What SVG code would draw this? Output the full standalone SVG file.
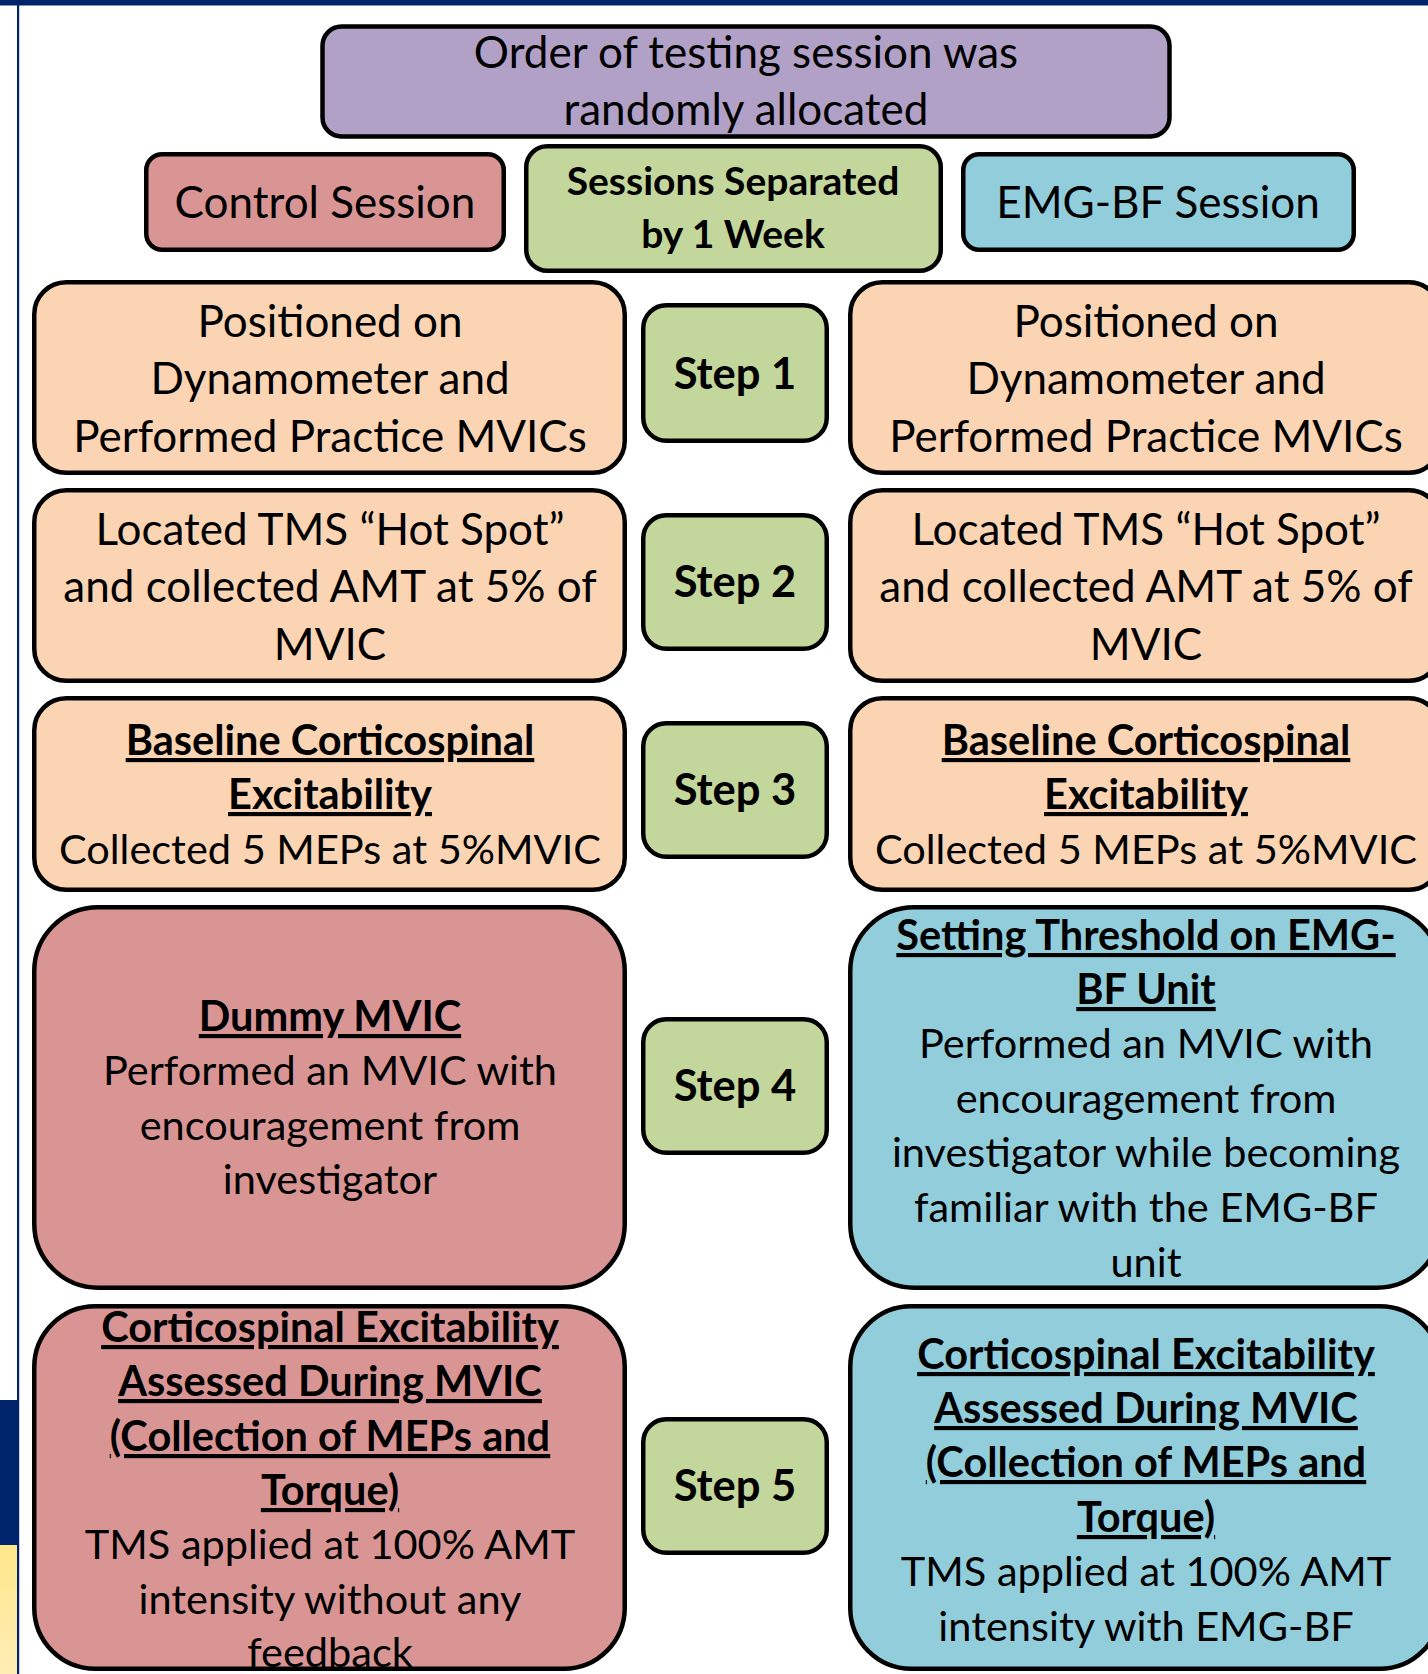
<svg xmlns="http://www.w3.org/2000/svg" width="1428" height="1674" viewBox="0 0 1428 1674">
<defs>
<linearGradient id="yel" x1="0" y1="0" x2="0" y2="1">
<stop offset="0" stop-color="#FEE68A"/>
<stop offset="1" stop-color="#FFEDB5"/>
</linearGradient>
<style>
.box{stroke:#000;stroke-width:4.5}
.pur{fill:#B2A1C7}.pink{fill:#D99594}.grn{fill:#C3D69B}.blu{fill:#92CDDC}.pch{fill:#FBD4B4}
text{font-family:Lato,"Liberation Sans",sans-serif;text-anchor:middle;fill:#000}
.r{font-size:44px}
.s{font-size:41.5px}
.b{font-weight:bold}
.u{text-decoration:underline}
.st{font-size:43.5px;font-weight:bold}
.ss{font-size:39px;font-weight:bold}
</style>
</defs>
<rect width="1428" height="1674" fill="#fff"/>
<g id="frame">
<rect x="0" y="0" width="1428" height="5.5" fill="#00246C"/>
<rect x="17" y="0" width="2.2" height="1674" fill="#00246C"/>
<rect x="0" y="1400" width="17" height="145" fill="#00246C"/>
<rect x="0" y="1545" width="17" height="129" fill="url(#yel)"/>
</g>
<g id="connectors"/>
<g id="order">
<rect class="box pur" x="322.5" y="26.5" width="847" height="110" rx="19"/>
<text class="r" x="746" y="68">Order of testing session was</text>
<text class="r" x="746" y="125">randomly allocated</text>
</g>
<g id="control-session">
<rect class="box pink" x="146.25" y="154.25" width="357.5" height="95.5" rx="16"/>
<text class="r" x="325" y="218">Control Session</text>
</g>
<g id="separated">
<rect class="box grn" x="526.25" y="146.25" width="414.5" height="124.5" rx="21"/>
<text class="ss" x="733" y="195">Sessions Separated</text>
<text class="ss" x="733" y="248">by 1 Week</text>
</g>
<g id="emg-session">
<rect class="box blu" x="963.25" y="154.25" width="390.5" height="95.5" rx="16"/>
<text class="r" x="1158" y="218">EMG-BF Session</text>
</g>
<g id="step1">
<rect class="box grn" x="643.25" y="305.25" width="183.5" height="135.5" rx="23"/>
<text class="st" x="735" y="389">Step 1</text>
</g>
<g id="step2">
<rect class="box grn" x="643.25" y="515.25" width="183.5" height="133.5" rx="23"/>
<text class="st" x="735" y="597">Step 2</text>
</g>
<g id="step3">
<rect class="box grn" x="643.25" y="723.25" width="183.5" height="133.5" rx="23"/>
<text class="st" x="735" y="805">Step 3</text>
</g>
<g id="step4">
<rect class="box grn" x="643.25" y="1019.25" width="183.5" height="133.5" rx="23"/>
<text class="st" x="735" y="1101">Step 4</text>
</g>
<g id="step5">
<rect class="box grn" x="643.25" y="1419.25" width="183.5" height="133.5" rx="23"/>
<text class="st" x="735" y="1501">Step 5</text>
</g>
<g id="ctrl-1">
<rect class="box pch" x="34.25" y="282.25" width="590.5" height="190.5" rx="32"/>
<text class="r" x="330" y="337">Positioned on</text>
<text class="r" x="330" y="394">Dynamometer and</text>
<text class="r" x="330" y="452">Performed Practice MVICs</text>
</g>
<g id="emg-1">
<rect class="box pch" x="850.25" y="282.25" width="590.5" height="190.5" rx="32"/>
<text class="r" x="1146" y="337">Positioned on</text>
<text class="r" x="1146" y="394">Dynamometer and</text>
<text class="r" x="1146" y="452">Performed Practice MVICs</text>
</g>
<g id="ctrl-2">
<rect class="box pch" x="34.25" y="490.25" width="590.5" height="190.5" rx="32"/>
<text class="r" x="330" y="545">Located TMS “Hot Spot”</text>
<text class="r" x="330" y="602">and collected AMT at 5% of</text>
<text class="r" x="330" y="660">MVIC</text>
</g>
<g id="emg-2">
<rect class="box pch" x="850.25" y="490.25" width="590.5" height="190.5" rx="32"/>
<text class="r" x="1146" y="545">Located TMS “Hot Spot”</text>
<text class="r" x="1146" y="602">and collected AMT at 5% of</text>
<text class="r" x="1146" y="660">MVIC</text>
</g>
<g id="ctrl-3">
<rect class="box pch" x="34.25" y="698.25" width="590.5" height="191.5" rx="32"/>
<text class="s b u" x="330" y="755">Baseline Corticospinal</text>
<text class="s b u" x="330" y="809">Excitability</text>
<text class="s" x="330" y="864">Collected 5 MEPs at 5%MVIC</text>
</g>
<g id="emg-3">
<rect class="box pch" x="850.25" y="698.25" width="590.5" height="191.5" rx="32"/>
<text class="s b u" x="1146" y="755">Baseline Corticospinal</text>
<text class="s b u" x="1146" y="809">Excitability</text>
<text class="s" x="1146" y="864">Collected 5 MEPs at 5%MVIC</text>
</g>
<g id="ctrl-4">
<rect class="box pink" x="34.25" y="907.25" width="590.5" height="380.5" rx="64"/>
<text class="s b u" x="330" y="1031">Dummy MVIC</text>
<text class="s" x="330" y="1085">Performed an MVIC with</text>
<text class="s" x="330" y="1140">encouragement from</text>
<text class="s" x="330" y="1194">investigator</text>
</g>
<g id="emg-4">
<rect class="box blu" x="850.25" y="907.25" width="590.5" height="380.5" rx="64"/>
<text class="s b u" x="1146" y="950">Setting Threshold on EMG-</text>
<text class="s b u" x="1146" y="1004">BF Unit</text>
<text class="s" x="1146" y="1058">Performed an MVIC with</text>
<text class="s" x="1146" y="1113">encouragement from</text>
<text class="s" x="1146" y="1167">investigator while becoming</text>
<text class="s" x="1146" y="1222">familiar with the EMG-BF</text>
<text class="s" x="1146" y="1277">unit</text>
</g>
<g id="ctrl-5">
<rect class="box pink" x="34.25" y="1306.25" width="590.5" height="362.5" rx="61"/>
<text class="s b u" x="330" y="1342">Corticospinal Excitability</text>
<text class="s b u" x="330" y="1396">Assessed During MVIC</text>
<text class="s b u" x="330" y="1451">(Collection of MEPs and</text>
<text class="s b u" x="330" y="1505">Torque)</text>
<text class="s" x="330" y="1559">TMS applied at 100% AMT</text>
<text class="s" x="330" y="1614">intensity without any</text>
<text class="s" x="330" y="1667">feedback</text>
</g>
<g id="emg-5">
<rect class="box blu" x="850.25" y="1306.25" width="590.5" height="362.5" rx="61"/>
<text class="s b u" x="1146" y="1369">Corticospinal Excitability</text>
<text class="s b u" x="1146" y="1423">Assessed During MVIC</text>
<text class="s b u" x="1146" y="1477">(Collection of MEPs and</text>
<text class="s b u" x="1146" y="1532">Torque)</text>
<text class="s" x="1146" y="1586">TMS applied at 100% AMT</text>
<text class="s" x="1146" y="1641">intensity with EMG-BF</text>
</g>
</svg>
